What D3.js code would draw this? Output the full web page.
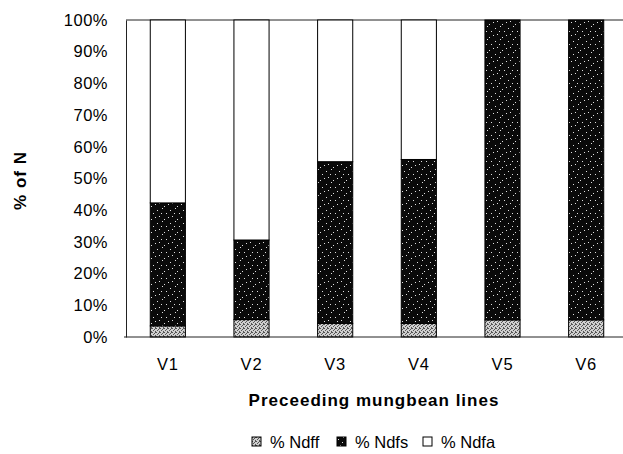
<!DOCTYPE html>
<html>
<head>
<meta charset="utf-8">
<script src="https://cdn.jsdelivr.net/npm/d3@7"></script>
<style>
  body { margin: 0; background: #fff; }
  svg text { font-family: "Liberation Sans", Arial, sans-serif; fill: #000; }
</style>
</head>
<body>
<script>
// data (% of N)
const lines = ["V1", "V2", "V3", "V4", "V5", "V6"];
const seriesNames = ["% Ndff", "% Ndfs", "% Ndfa"];
const ndff = [3.5, 5.5, 4.3, 4.3, 5.4, 5.4];
const ndfs = [38.8, 25.1, 51.0, 51.7, 94.6, 94.6];
const ndfa = [57.7, 69.4, 44.7, 44.0, 0, 0];
const yTicks = [0, 10, 20, 30, 40, 50, 60, 70, 80, 90, 100];

let width = 623, height = 454;
let margin = {top: 20, right: -5, bottom: 117, left: 126};

let svg = d3.select("body").append("svg")
  .attr("width", width)
  .attr("height", height);

// textures for the stacks
let defs = svg.append("defs");
let pDark = defs.append("pattern")
  .attr("id", "dark")
  .attr("patternUnits", "userSpaceOnUse")
  .attr("width", 13).attr("height", 13);
pDark.append("rect").attr("width", 13).attr("height", 13).attr("fill", "#0a0a0a");
[[1,2],[6,0],[10,5],[3,8],[8,11],[12,9],[5,5]].forEach(function(p){
  pDark.append("rect").attr("x", p[0]).attr("y", p[1])
    .attr("width", 1).attr("height", 1).attr("fill", "#e0e0e0");
});
let pLight = defs.append("pattern")
  .attr("id", "light")
  .attr("patternUnits", "userSpaceOnUse")
  .attr("width", 4).attr("height", 4);
pLight.append("rect").attr("width", 4).attr("height", 4).attr("fill", "#cfcfcf");
[[0,0],[2,1],[1,2],[3,3],[3,0]].forEach(function(p){
  pLight.append("rect").attr("x", p[0]).attr("y", p[1])
    .attr("width", 1).attr("height", 1).attr("fill", "#555");
});
let fills = ["url(#light)", "url(#dark)", "#fff"];

let rows = lines.map(function(v, i){
  return {line: v, "% Ndff": ndff[i], "% Ndfs": ndfs[i], "% Ndfa": ndfa[i]};
});
let stacked = d3.stack().keys(seriesNames)(rows);

let x = d3.scaleBand()
  .domain(lines)
  .range([margin.left, width - margin.right])
  .paddingInner(0.58)
  .paddingOuter(0.29);

let y = d3.scaleLinear()
  .domain([0, 100])
  .range([height - margin.bottom, margin.top]);

// top edge of plot area
svg.append("line")
  .attr("x1", margin.left).attr("x2", width)
  .attr("y1", y(100)).attr("y2", y(100))
  .attr("stroke", "#222").attr("stroke-width", 1);

// bars
svg.append("g").selectAll("g")
  .data(stacked)
  .enter().append("g")
  .attr("fill", function(d, i){ return fills[i]; })
  .selectAll("rect")
  .data(function(d){ return d; })
  .enter().append("rect")
  .attr("x", function(d){ return x(d.data.line); })
  .attr("y", function(d){ return y(d[1]); })
  .attr("width", x.bandwidth())
  .attr("height", function(d){ return y(d[0]) - y(d[1]); })
  .attr("stroke", "#000")
  .attr("stroke-width", 1);

// y axis
let yAxis = svg.append("g")
  .attr("transform", "translate(" + margin.left + ",0)")
  .call(d3.axisLeft(y).tickValues(yTicks).tickSize(0).tickPadding(18)
    .tickFormat(function(d){ return d + "%"; }));
yAxis.select(".domain").attr("stroke", "#222");
yAxis.selectAll("text").style("font-size", "16.5px").style("letter-spacing", "0.5px");

// x axis
let xAxis = svg.append("g")
  .attr("transform", "translate(0," + y(0) + ")")
  .call(d3.axisBottom(x).tickSize(0).tickPadding(21));
xAxis.select(".domain").attr("d", "M" + (margin.left - 2) + ",0H" + width).attr("stroke", "#222");
xAxis.selectAll("text").style("font-size", "16.5px").style("letter-spacing", "0.8px");

// axis titles
svg.append("text")
  .attr("transform", "translate(26," + ((y(0) + y(100)) / 2 + 2) + ") rotate(-90)")
  .attr("text-anchor", "middle")
  .style("font-size", "17px")
  .style("font-weight", "bold")
  .style("letter-spacing", "1px")
  .text("% of N");

svg.append("text")
  .attr("x", 374)
  .attr("y", 406)
  .attr("text-anchor", "middle")
  .style("font-size", "17px")
  .style("font-weight", "bold")
  .style("letter-spacing", "1px")
  .text("Preceeding mungbean lines");

// legend
let legendX = [252, 337, 423];
let legend = svg.append("g").selectAll("g")
  .data(seriesNames)
  .enter().append("g")
  .attr("transform", function(d, i){ return "translate(" + legendX[i] + ",437)"; });
legend.append("rect")
  .attr("width", 9).attr("height", 9)
  .attr("fill", function(d, i){ return fills[i]; })
  .attr("stroke", "#000");
legend.append("text")
  .attr("x", 18).attr("y", 10.5)
  .style("font-size", "16.5px")
  .text(function(d){ return d; });
</script>
</body>
</html>
